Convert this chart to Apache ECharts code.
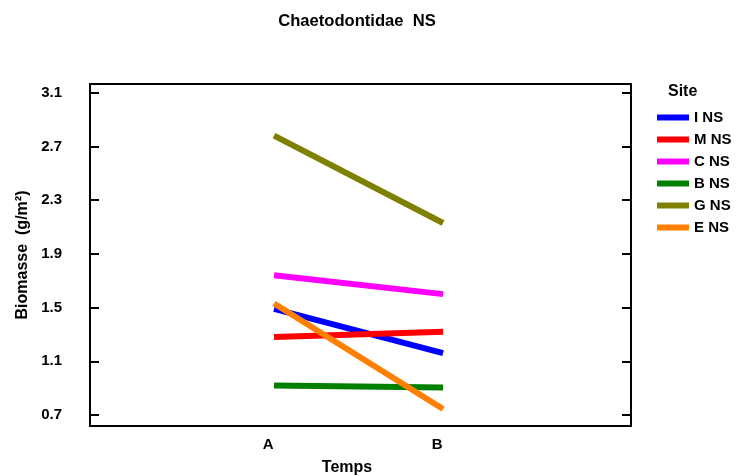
<!DOCTYPE html>
<html><head><meta charset="utf-8">
<script src="https://cdn.jsdelivr.net/npm/echarts@6/dist/echarts.min.js"></script>
<style>html,body{margin:0;padding:0;background:#fff}#c{width:737px;height:476px}</style>
</head><body><div id="c"></div>
<script>
var categories = ['A', 'B'];
var catPos = [1, 2];
var yTicks = [0.7, 1.1, 1.5, 1.9, 2.3, 2.7, 3.1];
var siteNames = ['I NS', 'M NS', 'C NS', 'B NS', 'G NS', 'E NS'];
var valI = [1.49, 1.16];
var valM = [1.28, 1.32];
var valC = [1.74, 1.60];
var valB = [0.92, 0.905];
var valG = [2.78, 2.13];
var valE = [1.53, 0.745];
var colors = ['#0000ff', '#ff0000', '#ff00ff', '#008000', '#808000', '#ff8000'];
var allVals = [valI, valM, valC, valB, valG, valE];

var F = 'Liberation Sans, Arial, sans-serif';
var series = siteNames.map(function (n, i) {
  return {
    name: n, type: 'line', symbol: 'none', silent: true,
    data: catPos.map(function (x, j) { return [x, allVals[i][j]]; }),
    lineStyle: { width: 6, color: colors[i], cap: 'butt' },
    itemStyle: { color: colors[i] }
  };
});
var yCommon = {
  type: 'value', min: 0.618, max: 3.165,
  splitLine: { show: false },
  axisLine: { show: true, onZero: false, lineStyle: { color: '#000', width: 2 } }
};
var chart = echarts.init(document.getElementById('c'), null, { renderer: 'canvas' });
chart.setOption({
  animation: false,
  title: {
    text: 'Chaetodontidae  NS', left: 352, top: 8, textAlign: 'center',
    textStyle: { fontFamily: F, fontWeight: 'bold', fontSize: 16.6, color: '#000' }
  },
  grid: { left: 90, top: 84, right: 106, bottom: 50, outerBoundsMode: 'none', containLabel: false },
  xAxis: [{
    type: 'value', min: -0.089, max: 3.112,
    splitLine: { show: false },
    axisLine: { show: true, onZero: false, lineStyle: { color: '#000', width: 2 } },
    axisTick: { show: false },
    axisLabel: {
      customValues: catPos, margin: 11, padding: [0, 12, 0, 0],
      formatter: function (v) { return categories[catPos.indexOf(v)] || ''; },
      fontFamily: F, fontWeight: 'bold', fontSize: 15, color: '#000'
    },
    name: 'Temps', nameLocation: 'middle', nameGap: 34,
    nameTextStyle: { fontFamily: F, fontWeight: 'bold', fontSize: 16, color: '#000', padding: [0, 27, 0, 0] }
  }, {
    type: 'value', min: -0.089, max: 3.112, position: 'top',
    splitLine: { show: false },
    axisLine: { show: true, onZero: false, lineStyle: { color: '#000', width: 2 } },
    axisTick: { show: false }, axisLabel: { show: false }
  }],
  yAxis: [Object.assign({}, yCommon, {
    position: 'left',
    axisTick: { show: true, inside: true, length: 9, customValues: yTicks, lineStyle: { color: '#000', width: 2 } },
    axisLabel: {
      customValues: yTicks, margin: 28,
      formatter: function (v) { return v.toFixed(1); },
      fontFamily: F, fontWeight: 'bold', fontSize: 15, color: '#000'
    },
    name: 'Biomasse  (g/m²)', nameLocation: 'middle', nameGap: 59, nameRotate: 90,
    nameTextStyle: { fontFamily: F, fontWeight: 'bold', fontSize: 16, color: '#000' }
  }), Object.assign({}, yCommon, {
    position: 'right',
    axisTick: { show: true, inside: true, length: 9, customValues: yTicks, lineStyle: { color: '#000', width: 2 } },
    axisLabel: { show: false }
  })],
  legend: {
    orient: 'vertical', left: 652, top: 105, itemWidth: 32, itemHeight: 6, itemGap: 7,
    icon: 'rect', selectedMode: false,
    data: siteNames,
    textStyle: { fontFamily: F, fontWeight: 'bold', fontSize: 15, color: '#000' }
  },
  graphic: [{
    type: 'text', left: 668, top: 84,
    style: { text: 'Site', font: 'bold 16px Liberation Sans, Arial, sans-serif', fill: '#000' }
  }],
  series: series
});
</script></body></html>
